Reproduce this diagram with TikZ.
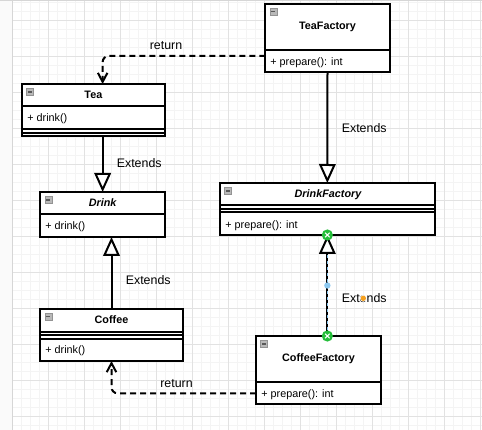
\documentclass[tikz,border=0pt]{standalone}
\usepackage{fontspec}
\setmainfont{Liberation Sans}
\usetikzlibrary{arrows.meta,calc}
\definecolor{gridmajor}{RGB}{226,226,226}
\definecolor{gridminor}{RGB}{244,244,244}
\definecolor{gutter}{RGB}{250,250,250}
\definecolor{edgegray}{RGB}{214,214,214}
\definecolor{selgreen}{RGB}{36,190,58}
\definecolor{selblue}{RGB}{140,200,240}
\definecolor{handleorange}{RGB}{245,160,30}

\begin{document}
\begin{tikzpicture}[x=1pt,y=-1pt,
  classbox/.style={draw=black, line width=2pt, fill=white, rectangle, inner sep=0pt, outer sep=0pt},
  classname/.style={font=\fontsize{10.8}{13}\selectfont\bfseries, inner sep=0pt},
  abstractname/.style={font=\fontsize{10.8}{13}\selectfont\bfseries\itshape, inner sep=0pt},
  member/.style={font=\fontsize{10.8}{13}\selectfont, inner sep=0pt, anchor=west},
  divider/.style={line width=2pt},
  edgetext/.style={font=\fontsize{12.4}{15}\selectfont, inner sep=0pt},
  extends/.style={line width=2pt, -{Triangle[fill=white,length=19pt,width=16.6pt]}},
  returns/.style={line width=2pt, dash pattern=on 6pt off 4pt, rounded corners=6pt,
    -{Straight Barb[length=9pt,width=9.5pt]}},
  minusicon/.pic={
    \draw[fill=gray!55, draw=gray!85, line width=0.6pt] (0,0) rectangle (7,7);
    \draw[black!65, line width=1.1pt] (1.6,3.5) -- (5.4,3.5);
  },
  handle/.pic={
    \fill[selgreen] (0,0) circle (5.6);
    \draw[white, line width=1.2pt] (-2.3,-2.3) -- (2.3,2.3) (-2.3,2.3) -- (2.3,-2.3);
  },
]
\useasboundingbox (0,0) rectangle (482,430);

% canvas grid
\fill[white] (0,0) rectangle (482,430);
\fill[gutter] (0,0) rectangle (12.7,430);
\foreach \i in {0,...,52} \draw[gridminor, line width=0.9pt] ({12.7+9*\i},0) -- ({12.7+9*\i},430);
\foreach \j in {0,...,47} \draw[gridminor, line width=0.9pt] (12.7,{2+9*\j}) -- (482,{2+9*\j});
\foreach \i in {0,...,13} \draw[gridmajor, line width=0.9pt] ({12.7+36*\i},0) -- ({12.7+36*\i},430);
\foreach \j in {0,...,11} \draw[gridmajor, line width=0.9pt] (12.7,{20+36*\j}) -- (482,{20+36*\j});
\draw[edgegray, line width=1pt] (12.7,0) -- (12.7,430);
\draw[edgegray, line width=1pt] (0,0.5) -- (482,0.5);

% classes
\node[classbox, minimum width=124.4pt, minimum height=68.3pt] (tf) at (327.5,37.85) {};
\node[classbox, minimum width=142.7pt, minimum height=52pt] (tea) at (93.35,110) {};
\node[classbox, minimum width=124.7pt, minimum height=45pt] (drink) at (102.65,214.5) {};
\node[classbox, minimum width=214.7pt, minimum height=52pt] (df) at (327.35,209) {};
\node[classbox, minimum width=142.4pt, minimum height=52.3pt] (coffee) at (111.5,334.85) {};
\node[classbox, minimum width=124.7pt, minimum height=68pt] (cf) at (318.35,370) {};

% compartment dividers
\draw[divider] ([yshift=-46.3pt]tf.north west) -- ([yshift=-46.3pt]tf.north east);
\foreach \d in {22.5,45,48.6}
  \draw[divider] ([yshift=-\d pt]tea.north west) -- ([yshift=-\d pt]tea.north east);
\draw[divider] ([yshift=-22pt]drink.north west) -- ([yshift=-22pt]drink.north east);
\foreach \d in {22,25.7,29.4}
  \draw[divider] ([yshift=-\d pt]df.north west) -- ([yshift=-\d pt]df.north east);
\foreach \d in {23.3,26.6,30}
  \draw[divider] ([yshift=-\d pt]coffee.north west) -- ([yshift=-\d pt]coffee.north east);
\draw[divider] ([yshift=-45.7pt]cf.north west) -- ([yshift=-45.7pt]cf.north east);

% collapse icons
\foreach \b in {tf,tea,drink,df,coffee,cf}
  \pic at ([shift={(4.5,4.5)}]\b.north west) {minusicon};

% class texts
\node[classname] (tfname) at (327.5,27) {TeaFactory};
\node[member] (tfop) at (270.2,62.3) {+ prepare(): int};
\node[classname] (teaname) at (93.4,95) {Tea};
\node[member] (teaop) at (27.2,119) {+ drink()};
\node[abstractname] (drinkname) at (102.7,202.7) {Drink};
\node[member] (drinkop) at (45.2,227) {+ drink()};
\node[abstractname] (dfname) at (328,194.3) {DrinkFactory};
\node[member] (dfop) at (225.2,225.3) {+ prepare(): int};
\node[classname] (coffeename) at (111.5,320) {Coffee};
\node[member] (coffeeop) at (45.2,351) {+ drink()};
\node[classname] (cfname) at (318.5,359) {CoffeeFactory};
\node[member] (cfop) at (261.2,394.3) {+ prepare(): int};

% inheritance
\draw[extends] (tf.south) -- (df.north);
\draw[extends] (tea.south -| drink.north) -- (drink.north);
\draw[extends] (coffee.north) -- (coffee.north |- drink.south);
\draw[extends] (cf.north -| df.south) -- (df.south);
\draw[selblue, line width=0.9pt, dash pattern=on 3pt off 3pt]
  (cf.north -| df.south) -- ([yshift=-19pt]df.south);

% factory returns
\draw[returns] ([yshift=-18.15pt]tf.west) -| (tea.north -| drink.north);
\draw[returns] ([yshift=-23.3pt]cf.west) -| (coffee.south);

% edge labels
\node[edgetext] (ret1) at (166,45.7) {return};
\node[edgetext] (ret2) at (176.5,383.7) {return};
\node[edgetext] (ext1) at (364.2,127.7) {Extends};
\node[edgetext] (ext2) at (139.2,163.3) {Extends};
\node[edgetext] (ext3) at (148.2,280.3) {Extends};
\node[edgetext] (ext4) at (364.2,298.3) {Extends};

% edge handles
\pic at (df.south) {handle};
\pic at (cf.north -| df.south) {handle};
\fill[selblue] ($(df.south)!0.5!(cf.north -| df.south)$) circle (3.2);
\fill[white] ([xshift=-0.9pt]ext4.center) circle (3.4);
\fill[handleorange] ([xshift=-0.9pt]ext4.center) circle (2.7);
\end{tikzpicture}
\end{document}
